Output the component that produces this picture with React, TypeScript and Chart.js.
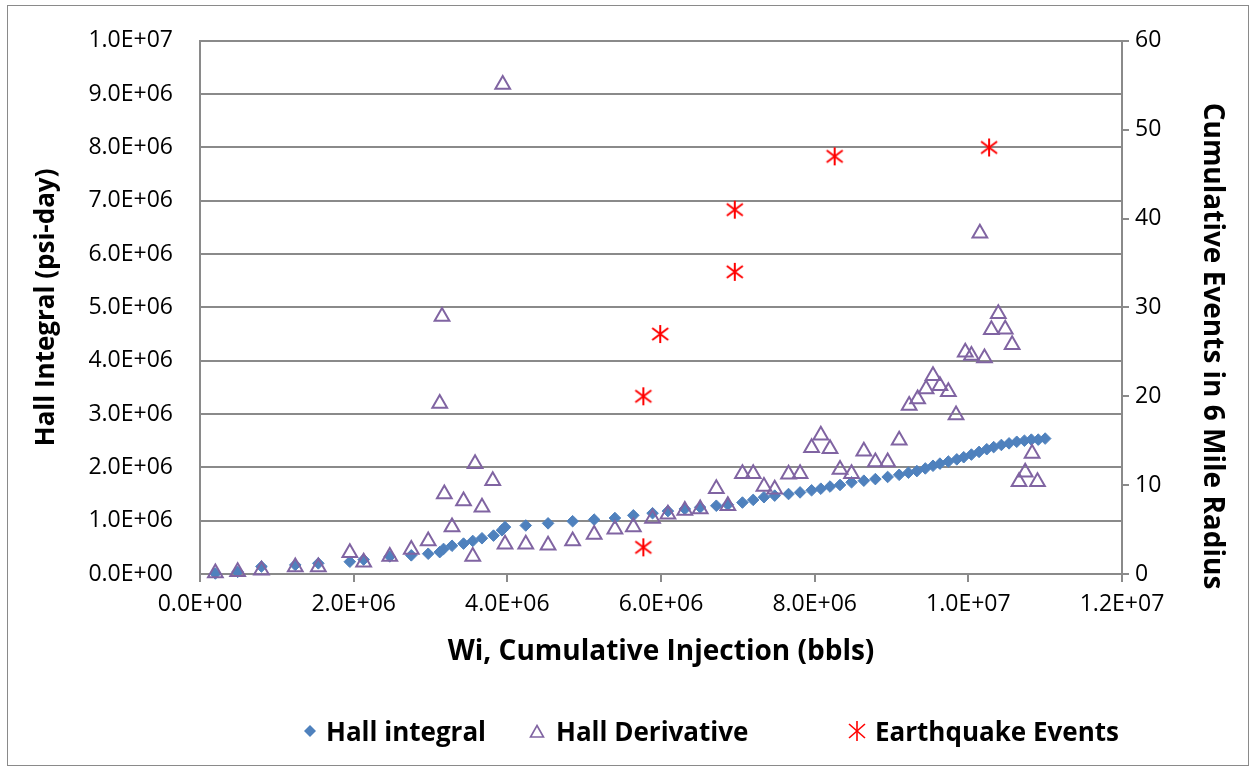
import React, { useEffect, useRef } from "react";
import { Chart, registerables } from "chart.js";

Chart.register(...registerables);

// Cumulative injection (millions of bbls) and Hall integral (millions psi-day)
const hallInjectionMM = [
  0.2, 0.49, 0.8, 1.24, 1.54, 1.95, 2.13, 2.47, 2.75, 2.97, 3.12, 3.17, 3.28, 3.43, 3.55, 3.67, 3.82, 3.93, 3.97,
  4.24, 4.53, 4.85, 5.13, 5.4, 5.64, 5.89, 6.09, 6.31, 6.51, 6.72, 6.87, 7.06, 7.2, 7.34, 7.48, 7.66, 7.81, 7.96,
  8.08, 8.2, 8.33, 8.48, 8.64, 8.79, 8.95, 9.1, 9.22, 9.33, 9.44, 9.54, 9.63, 9.74, 9.85, 9.94, 10.04, 10.14,
  10.24, 10.33, 10.43, 10.53, 10.63, 10.73, 10.82, 10.91, 11.0,
];
const hallIntegralMM = [
  0.01, 0.04, 0.14, 0.17, 0.2, 0.23, 0.27, 0.33, 0.35, 0.38, 0.41, 0.47, 0.53, 0.57, 0.62, 0.67, 0.72, 0.82, 0.88,
  0.91, 0.95, 0.99, 1.02, 1.05, 1.1, 1.14, 1.18, 1.22, 1.25, 1.28, 1.3, 1.34, 1.39, 1.44, 1.47, 1.5, 1.53, 1.57,
  1.6, 1.64, 1.67, 1.72, 1.75, 1.78, 1.82, 1.86, 1.9, 1.93, 1.98, 2.03, 2.07, 2.11, 2.15, 2.19, 2.24, 2.29,
  2.34, 2.38, 2.42, 2.45, 2.48, 2.5, 2.52, 2.52, 2.54,
];

// Hall derivative (millions)
const derivInjectionMM = [
  0.2, 0.49, 0.8, 1.24, 1.54, 1.95, 2.13, 2.47, 2.75, 2.97, 3.12, 3.15, 3.18, 3.28, 3.43, 3.55, 3.58, 3.67, 3.81,
  3.94, 3.97, 4.24, 4.53, 4.85, 5.13, 5.4, 5.64, 5.89, 6.09, 6.31, 6.51, 6.72, 6.87, 7.06, 7.2, 7.34, 7.48, 7.66,
  7.81, 7.96, 8.08, 8.2, 8.33, 8.48, 8.64, 8.79, 8.95, 9.1, 9.23, 9.34, 9.45, 9.54, 9.63, 9.74, 9.84, 9.96,
  10.04, 10.15, 10.21, 10.3, 10.39, 10.48, 10.57, 10.66, 10.74, 10.83, 10.9,
];
const derivValueMM = [
  0.02, 0.04, 0.07, 0.13, 0.13, 0.4, 0.22, 0.33, 0.46, 0.62, 3.2, 4.83, 1.5, 0.88, 1.37, 0.33, 2.07, 1.25, 1.75,
  9.18, 0.56, 0.56, 0.54, 0.62, 0.74, 0.84, 0.88, 1.04, 1.12, 1.19, 1.22, 1.6, 1.28, 1.88, 1.88, 1.64, 1.59, 1.87,
  1.88, 2.37, 2.6, 2.35, 1.96, 1.88, 2.3, 2.1, 2.1, 2.51, 3.16, 3.28, 3.47, 3.72, 3.53, 3.42, 2.98, 4.16,
  4.1, 6.39, 4.05, 4.58, 4.88, 4.59, 4.3, 1.73, 1.91, 2.26, 1.73,
];

// Earthquake events (cumulative count, right axis)
const quakeInjectionMM = [5.77, 5.77, 5.99, 6.96, 6.96, 8.26, 10.27];
const quakeCount = [3, 20, 27, 34, 41, 47, 48];

// Tick values
const xTickValues = [0, 2e6, 4e6, 6e6, 8e6, 10e6, 12e6];
const leftTickValues = [0, 1e6, 2e6, 3e6, 4e6, 5e6, 6e6, 7e6, 8e6, 9e6, 10e6];
const rightTickValues = [0, 10, 20, 30, 40, 50, 60];

const seriesNames = ["Hall integral", "Hall Derivative", "Earthquake Events"];
const xTitle = "Wi, Cumulative Injection (bbls)";
const leftTitle = "Hall Integral (psi-day)";
const rightTitle = "Cumulative Events in 6 Mile Radius";

const BLUE = "#4F81BD";
const PURPLE = "#8064A2";
const RED = "#FF0000";
const GRID = "#8a8a8a";
const FONT = "'Open Sans', 'Noto Sans', sans-serif";

function fmtE(v: number): string {
  if (v === 0) return "0.0E+00";
  const e = Math.floor(Math.log10(Math.abs(v)) + 1e-9);
  const m = v / Math.pow(10, e);
  return m.toFixed(1) + "E" + (e < 0 ? "-" : "+") + String(Math.abs(e)).padStart(2, "0");
}

function makeStar(size: number, color: string, lw: number): HTMLCanvasElement {
  const c = document.createElement("canvas");
  c.width = size;
  c.height = size;
  const ctx = c.getContext("2d")!;
  ctx.strokeStyle = color;
  ctx.lineWidth = lw;
  ctx.lineCap = "butt";
  const m = size / 2;
  ctx.beginPath();
  ctx.moveTo(m, 1);
  ctx.lineTo(m, size - 1);
  ctx.moveTo(2, 4);
  ctx.lineTo(size - 2, size - 4);
  ctx.moveTo(2, size - 4);
  ctx.lineTo(size - 2, 4);
  ctx.stroke();
  return c;
}

// Right-axis title drawn a little below the axis centre, as in the source chart
const rightTitlePlugin = {
  id: "rightTitle",
  afterDraw(chart: any) {
    const ctx = chart.ctx as CanvasRenderingContext2D;
    ctx.save();
    ctx.translate(1212, 346);
    ctx.rotate(Math.PI / 2);
    ctx.font = `bold 28px ${FONT}`;
    ctx.fillStyle = "#000";
    ctx.textAlign = "center";
    ctx.textBaseline = "middle";
    ctx.fillText(rightTitle, 0, 0);
    ctx.restore();
  },
};

const LegendDiamond = () => (
  <svg width="12" height="12" viewBox="0 0 12 12" style={{ display: "block" }}>
    <polygon points="6,0 12,6 6,12 0,6" fill={BLUE} />
  </svg>
);
const LegendTriangle = () => (
  <svg width="16" height="14" viewBox="0 0 16 14" style={{ display: "block" }}>
    <polygon points="8,1.5 14.5,13 1.5,13" fill="none" stroke={PURPLE} strokeWidth="1.6" />
  </svg>
);
const LegendStar = () => (
  <svg width="20" height="22" viewBox="0 0 20 22" style={{ display: "block" }}>
    <g stroke={RED} strokeWidth="1.6" fill="none">
      <line x1="10" y1="1" x2="10" y2="21" />
      <line x1="2" y1="4" x2="18" y2="18" />
      <line x1="2" y1="18" x2="18" y2="4" />
    </g>
  </svg>
);

export default function App() {
  const canvasRef = useRef<HTMLCanvasElement | null>(null);

  useEffect(() => {
    if (!canvasRef.current) return;
    const star = makeStar(20, RED, 2);

    const hallData = hallInjectionMM.map((x, i) => ({ x: x * 1e6, y: hallIntegralMM[i] * 1e6 }));
    const derivData = derivInjectionMM.map((x, i) => ({ x: x * 1e6, y: derivValueMM[i] * 1e6 }));
    const quakeData = quakeInjectionMM.map((x, i) => ({ x: x * 1e6, y: quakeCount[i] }));

    const tickFont = { family: FONT, size: 23 };

    const chart = new Chart(canvasRef.current, {
      type: "scatter",
      data: {
        datasets: [
          {
            label: seriesNames[0],
            data: hallData,
            yAxisID: "y",
            pointStyle: "rectRot",
            pointRadius: 5.8,
            backgroundColor: BLUE,
            borderColor: BLUE,
            borderWidth: 1,
            clip: false,
            order: 2,
          },
          {
            label: seriesNames[1],
            data: derivData,
            yAxisID: "y",
            pointStyle: "triangle",
            pointRadius: 8.5,
            backgroundColor: "rgba(0,0,0,0)",
            borderColor: PURPLE,
            borderWidth: 2,
            clip: false,
            order: 1,
          },
          {
            label: seriesNames[2],
            data: quakeData,
            yAxisID: "y2",
            pointStyle: star,
            pointRadius: 10,
            backgroundColor: RED,
            borderColor: RED,
            clip: false,
            order: 0,
          },
        ],
      },
      options: {
        animation: false,
        responsive: false,
        devicePixelRatio: 1,
        layout: { padding: { left: 27, right: 20, top: 36, bottom: 98 } },
        plugins: {
          legend: { display: false },
          tooltip: { enabled: false },
        },
        scales: {
          x: {
            type: "linear",
            position: "bottom",
            min: 0,
            max: 12e6,
            afterBuildTicks: (s: any) => {
              s.ticks = xTickValues.map((v) => ({ value: v }));
            },
            afterFit: (s: any) => {
              s.height = 99;
            },
            ticks: {
              font: tickFont,
              color: "#000",
              padding: 9,
              maxRotation: 0,
              autoSkip: false,
              callback: (v: any) => fmtE(Number(v)),
            },
            grid: { drawOnChartArea: false, drawTicks: true, tickLength: 8, color: GRID, lineWidth: 2 },
            border: { display: true, color: GRID, width: 2 },
            title: {
              display: true,
              text: xTitle,
              font: { family: FONT, size: 28, weight: "bold" },
              color: "#000",
              padding: { top: 4, bottom: 4 },
            },
          },
          y: {
            type: "linear",
            position: "left",
            min: 0,
            max: 10e6,
            afterBuildTicks: (s: any) => {
              s.ticks = leftTickValues.map((v) => ({ value: v }));
            },
            afterFit: (s: any) => {
              s.width = 173;
            },
            ticks: {
              font: tickFont,
              color: "#000",
              padding: 27,
              autoSkip: false,
              callback: (v: any) => fmtE(Number(v)),
            },
            grid: { drawOnChartArea: true, drawTicks: false, color: GRID, lineWidth: 2 },
            border: { display: true, color: GRID, width: 2 },
            title: {
              display: true,
              text: leftTitle,
              font: { family: FONT, size: 26, weight: "bold" },
              color: "#000",
              padding: { top: 4, bottom: 4 },
            },
          },
          y2: {
            type: "linear",
            position: "right",
            min: 0,
            max: 60,
            afterBuildTicks: (s: any) => {
              s.ticks = rightTickValues.map((v) => ({ value: v }));
            },
            afterFit: (s: any) => {
              s.width = 111;
            },
            ticks: { font: tickFont, color: "#000", padding: 6, autoSkip: false },
            grid: { drawOnChartArea: false, drawTicks: true, tickLength: 7, color: GRID, lineWidth: 2 },
            border: { display: true, color: GRID, width: 2 },
            title: { display: false, text: rightTitle },
          },
        },
      },
      plugins: [rightTitlePlugin],
    });
    return () => chart.destroy();
  }, []);

  const legendText: React.CSSProperties = {
    position: "absolute",
    top: 731 - 18,
    height: 36,
    lineHeight: "36px",
    fontFamily: FONT,
    fontWeight: 700,
    fontSize: 26,
    color: "#000",
    whiteSpace: "nowrap",
  };
  const marker = (cx: number, w: number, h: number): React.CSSProperties => ({
    position: "absolute",
    left: cx - w / 2,
    top: 731 - h / 2,
  });

  return (
    <div style={{ position: "absolute", left: 0, top: 0, width: 1253, height: 771, background: "#fff" }}>
      <div
        style={{
          position: "absolute",
          left: 7,
          top: 5,
          width: 1242,
          height: 761,
          border: "1px solid #8a8a8a",
          boxSizing: "border-box",
        }}
      />
      <canvas ref={canvasRef} width={1253} height={771} style={{ position: "absolute", left: 0, top: 0 }} />
      <div style={marker(310, 12, 12)}>
        <LegendDiamond />
      </div>
      <div style={{ ...legendText, left: 326 }}>{seriesNames[0]}</div>
      <div style={marker(537, 16, 14)}>
        <LegendTriangle />
      </div>
      <div style={{ ...legendText, left: 556 }}>{seriesNames[1]}</div>
      <div style={marker(857, 20, 22)}>
        <LegendStar />
      </div>
      <div style={{ ...legendText, left: 875 }}>{seriesNames[2]}</div>
    </div>
  );
}
